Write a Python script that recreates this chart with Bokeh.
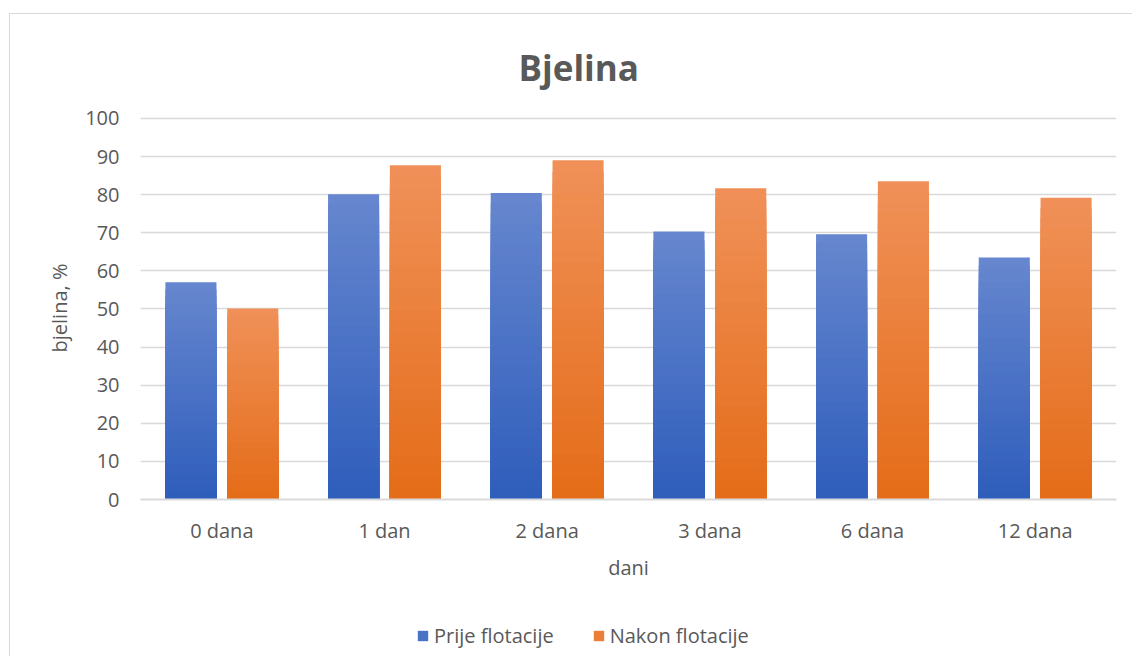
from bokeh.plotting import figure
from bokeh.layouts import column
from bokeh.models import (FactorRange, Range1d, Legend, LegendItem, Title,
                          SingleIntervalTicker, ColumnDataSource)
from bokeh.transform import dodge
from bokeh.embed import file_html
from bokeh.resources import INLINE

# ---- data ----
categories = ["0 dana", "1 dan", "2 dana", "3 dana", "6 dana", "12 dana"]
prije = [57.0, 80.1, 80.4, 70.3, 69.6, 63.5]
nakon = [50.1, 87.7, 89.0, 81.7, 83.5, 79.2]
series_names = ["Prije flotacije", "Nakon flotacije"]
title_text = "Bjelina"

FONT = "Open Sans"
TXT = "#595959"
GRID = "#d9d9d9"
BORDER = "1px solid #d9d9d9"


def lerp(c1, c2, t):
    a = [int(c1[i:i + 2], 16) for i in (1, 3, 5)]
    b = [int(c2[i:i + 2], 16) for i in (1, 3, 5)]
    return "#%02x%02x%02x" % tuple(round(a[j] + (b[j] - a[j]) * t) for j in range(3))


p = figure(
    x_range=FactorRange(factors=categories, range_padding=0),
    y_range=Range1d(0, 100.5),
    frame_width=975, frame_height=382,
    output_backend="svg", toolbar_location=None,
    min_border_left=130, min_border_right=17,
    min_border_top=102, min_border_bottom=118,
    background_fill_color="white", border_fill_color="white",
    outline_line_color=None,
    styles={"border-left": BORDER, "border-top": BORDER,
            "margin-left": "9px", "margin-top": "13px"},
)

p.title = Title(text=title_text, align="left", offset=378,
                text_font=FONT, text_font_size="35px", text_font_style="bold",
                text_color=TXT, standoff=52)

# gradient bars: layered from full height (light top colour) down to the base
N = 30
series = [
    (prije, -0.19, "#2e5dbb", "#6787cf"),
    (nakon, 0.19, "#e46c18", "#f09159"),
]
for vals, off, c_bot, c_top in series:
    for k in range(N, 0, -1):
        frac = k / N
        src = ColumnDataSource(dict(x=categories, top=[v * frac for v in vals]))
        p.vbar(x=dodge("x", off, range=p.x_range), top="top", width=0.314,
               source=src, fill_color=lerp(c_bot, c_top, (k - 0.5) / N),
               line_color=None)

# axes
p.yaxis.ticker = SingleIntervalTicker(interval=10)
p.yaxis.axis_line_color = None
p.yaxis.major_tick_line_color = None
p.yaxis.minor_tick_line_color = None
p.yaxis.major_label_standoff = 15
p.yaxis.axis_label = "bjelina, %"
p.yaxis.axis_label_standoff = 9

p.xaxis.axis_line_color = GRID
p.xaxis.axis_line_width = 2
p.xaxis.major_tick_line_color = None
p.xaxis.minor_tick_line_color = None
p.xaxis.major_label_standoff = 11
p.xaxis.axis_label = "dani"
p.xaxis.axis_label_standoff = 7

for ax in (p.xaxis, p.yaxis):
    ax.major_label_text_font = FONT
    ax.major_label_text_font_size = "20px"
    ax.major_label_text_color = TXT
    ax.axis_label_text_font = FONT
    ax.axis_label_text_font_size = "20px"
    ax.axis_label_text_font_style = "normal"
    ax.axis_label_text_color = TXT

p.xgrid.grid_line_color = None
p.ygrid.grid_line_color = GRID
p.ygrid.grid_line_width = 1.5

# ---- legend strip below the chart ----
# the swatch renderers use the series data, but their y range lies above the data,
# so only the legend entries are visible in this strip
p2 = figure(
    x_range=FactorRange(factors=categories, range_padding=0),
    y_range=Range1d(1000, 1001),
    frame_width=975, frame_height=40,
    output_backend="svg", toolbar_location=None,
    x_axis_location=None, y_axis_location=None,
    min_border_left=130, min_border_right=17,
    min_border_top=0, min_border_bottom=0,
    background_fill_color="white", border_fill_color="white",
    outline_line_color=None,
    styles={"border-left": BORDER, "margin-left": "9px"},
)
p2.grid.visible = False
swatches = []
for vals, off, c_bot, c_top in series:
    swatches.append(p2.vbar(x=categories, top=vals, width=0.3,
                            fill_color=lerp(c_bot, c_top, 0.5), line_color=None))

legend = Legend(
    items=[LegendItem(label=series_names[i], renderers=[swatches[i]]) for i in range(2)],
    orientation="horizontal", location=(276, 7),
    border_line_color=None, background_fill_alpha=0,
    label_text_font=FONT, label_text_font_size="20px", label_text_color=TXT,
    glyph_width=13, glyph_height=13, label_standoff=5, spacing=38,
    padding=0, margin=0,
)
p2.add_layout(legend, "center")

layout = column(p, p2, spacing=0)

open("out.html", "w").write(file_html(layout, INLINE))
